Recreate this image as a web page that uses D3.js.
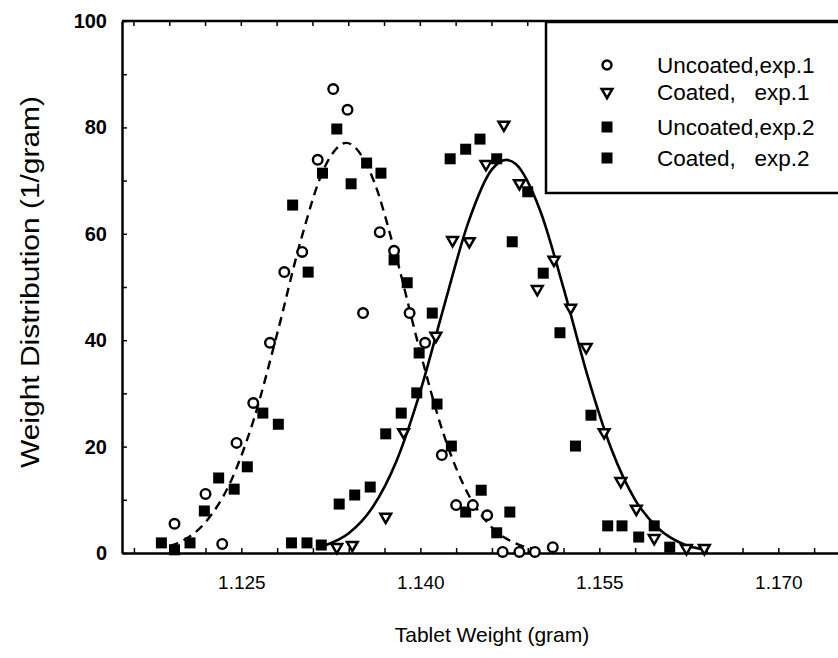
<!DOCTYPE html>
<meta charset="utf-8">
<title>Tablet Weight Distribution</title>
<style>
  body { margin: 0; background: white; }
  svg { font-family: "Liberation Sans", Arial, sans-serif; }
  .tick text { fill: black; }
</style>
<body>
<div id="chart"></div>
<script src="https://d3js.org/d3.v7.min.js"></script>
<script>

// Uncoated, exp.1 (open circles)
var uncoated1X = [1.1194, 1.1220, 1.1234, 1.1246, 1.1260, 1.1274, 1.1286, 1.1301, 1.1314, 1.1327, 1.1339,
                  1.1352, 1.1366, 1.1378, 1.1391, 1.1404, 1.1418, 1.1430, 1.1444, 1.1456, 1.1469, 1.1483, 1.1496, 1.1511];
var uncoated1Y = [5.5, 11.1, 1.7, 20.7, 28.2, 39.5, 52.8, 56.6, 73.9, 87.2, 83.3,
                  45.1, 60.3, 56.8, 45.1, 39.5, 18.4, 9.0, 9.0, 7.1, 0.2, 0.2, 0.2, 1.1];

// Coated, exp.1 (open down triangles)
var coated1X = [1.1330, 1.1343, 1.1371, 1.1386, 1.1413, 1.1427, 1.1441, 1.1455, 1.1470, 1.1483,
                1.1498, 1.1512, 1.1526, 1.1539, 1.1554, 1.1568, 1.1581, 1.1596, 1.1623, 1.1638];
var coated1Y = [1.1, 1.5, 6.8, 22.7, 40.8, 58.8, 58.6, 73.1, 80.5, 69.5,
                49.6, 55.1, 46.1, 38.7, 22.7, 13.5, 8.3, 2.8, 0.9, 0.9];

// Uncoated, exp.2 (filled squares)
var uncoated2X = [1.1183, 1.1194, 1.1207, 1.1219, 1.1231, 1.1244, 1.1255, 1.1268, 1.1281, 1.1293, 1.1306,
                  1.1318, 1.1330, 1.1342, 1.1355, 1.1367, 1.1378, 1.1389, 1.1399, 1.1414, 1.1426,
                  1.1438, 1.1451, 1.1464, 1.1475];
var uncoated2Y = [1.9, 0.6, 1.9, 7.9, 14.1, 12.0, 16.2, 26.3, 24.2, 65.4, 52.8,
                  71.4, 79.7, 69.4, 73.3, 71.4, 55.1, 50.8, 37.6, 28.0, 20.1,
                  7.7, 11.8, 3.8, 7.7];

// Coated, exp.2 (filled squares)
var coated2X = [1.1292, 1.1305, 1.1317, 1.1332, 1.1345, 1.1358, 1.1371, 1.1384, 1.1397, 1.1410,
                1.1425, 1.1438, 1.1450, 1.1464, 1.1477, 1.1490, 1.1503, 1.1517, 1.1530, 1.1543,
                1.1557, 1.1569, 1.1583, 1.1596, 1.1609];
var coated2Y = [1.9, 1.9, 1.5, 9.2, 10.9, 12.4, 22.4, 26.3, 30.1, 45.1,
                74.1, 75.9, 77.8, 74.1, 58.5, 67.9, 52.6, 41.4, 20.1, 25.9,
                5.1, 5.1, 3.0, 5.1, 1.1];

// fitted curves
var uncoatedFitX = [1.119, 1.120, 1.122, 1.124, 1.126, 1.128, 1.130, 1.132, 1.1338, 1.136, 1.138,
                    1.140, 1.142, 1.144, 1.146, 1.148, 1.150];
var uncoatedFitY = [1.3, 2.2, 5.8, 12.9, 24.8, 41.2, 58.9, 72.6, 77.1, 70.5, 55.5,
                    37.7, 22.0, 11.1, 4.8, 1.8, 0.6];
var coatedFitX = [1.132, 1.134, 1.136, 1.138, 1.140, 1.142, 1.144, 1.146, 1.1472, 1.148, 1.150,
                  1.152, 1.154, 1.156, 1.158, 1.160, 1.162, 1.164];
var coatedFitY = [1.4, 3.7, 8.6, 17.3, 30.4, 46.5, 62.0, 72.1, 73.9, 73.1, 64.6,
                  49.8, 33.4, 19.6, 10.0, 4.5, 1.7, 0.6];

var xTickLabels = ["1.125", "1.140", "1.155", "1.170"];
var xMinorTicks = [1.116, 1.119, 1.122, 1.125, 1.128, 1.131, 1.134, 1.137, 1.140, 1.143, 1.146,
                   1.149, 1.152, 1.155, 1.158, 1.161, 1.164, 1.167, 1.170, 1.173];
var yTickLabels = [0, 20, 40, 60, 80, 100];
var yMinorTicks = [10, 20, 30, 40, 50, 60, 70, 80, 90];

var legendLabels = ["Uncoated,exp.1", "Coated,   exp.1", "Uncoated,exp.2", "Coated,   exp.2"];
var legendMarks = ["circle", "triangle", "square", "square"];

var W = 838, H = 658;
var svg = d3.select("#chart").append("svg")
    .attr("width", W)
    .attr("height", H);

var x = d3.scaleLinear().domain([1.115, 1.175]).range([122, 838]);
var y = d3.scaleLinear().domain([0, 100]).range([553, 21]);

function pairs(xs, ys) { return xs.map(function(v, i) { return [v, ys[i]]; }); }

// frame: top line
svg.append("line")
    .attr("x1", x(1.115)).attr("x2", W)
    .attr("y1", y(100)).attr("y2", y(100))
    .attr("stroke", "black").attr("stroke-width", 2.5);

// inner ticks on top edge
svg.append("g")
  .selectAll("line").data(xMinorTicks).enter().append("line")
    .attr("x1", function(d) { return x(d); }).attr("x2", function(d) { return x(d); })
    .attr("y1", y(100)).attr("y2", y(100) + 5)
    .attr("stroke", "black").attr("stroke-width", 1.5);

// x axis
var xAxis = svg.append("g")
    .attr("transform", "translate(0," + y(0) + ")")
    .call(d3.axisBottom(x).tickValues(xMinorTicks).tickSize(-5).tickSizeOuter(0)
      .tickFormat(function(d) {
        var s = d3.format(".3f")(d);
        return xTickLabels.indexOf(s) >= 0 ? s : "";
      }));
xAxis.select(".domain").attr("stroke-width", 2.5);
xAxis.selectAll(".tick line").attr("stroke-width", 1.5);
xAxis.selectAll(".tick text")
    .attr("y", 23)
    .style("font-size", "19px");

// y axis
var yAxis = svg.append("g")
    .attr("transform", "translate(" + x(1.115) + ",0)")
    .call(d3.axisLeft(y).tickValues(yMinorTicks.concat([0, 100])).tickSize(-5).tickSizeOuter(0)
      .tickFormat(function(d) { return yTickLabels.indexOf(d) >= 0 ? d : ""; }));
yAxis.select(".domain").attr("stroke-width", 2.5);
yAxis.selectAll(".tick line").attr("stroke-width", 1.5);
yAxis.selectAll(".tick text")
    .attr("x", -15)
    .style("font-size", "20px")
    .style("font-weight", "bold");

// axis titles
svg.append("text")
    .attr("x", 492).attr("y", 642)
    .attr("text-anchor", "middle")
    .style("font-size", "21px")
    .text("Tablet Weight (gram)");

svg.append("text")
    .attr("transform", "translate(39,282) rotate(-90)")
    .attr("text-anchor", "middle")
    .attr("textLength", 372)
    .attr("lengthAdjust", "spacingAndGlyphs")
    .style("font-size", "26px")
    .text("Weight Distribution (1/gram)");

// fitted curves
var line = d3.line()
    .x(function(d) { return x(d[0]); })
    .y(function(d) { return y(d[1]); })
    .curve(d3.curveMonotoneX);

svg.append("path")
    .datum(pairs(uncoatedFitX, uncoatedFitY))
    .attr("d", line)
    .attr("fill", "none").attr("stroke", "black")
    .attr("stroke-width", 2.4).attr("stroke-dasharray", "9,6");

svg.append("path")
    .datum(pairs(coatedFitX, coatedFitY))
    .attr("d", line)
    .attr("fill", "none").attr("stroke", "black")
    .attr("stroke-width", 2.6);

// markers
var square = d3.symbol().type(d3.symbolSquare).size(121);
var tri = d3.symbol().type(d3.symbolTriangle).size(50);

svg.append("g").selectAll("path")
    .data(pairs(uncoated2X, uncoated2Y).concat(pairs(coated2X, coated2Y)))
    .enter().append("path")
    .attr("d", square)
    .attr("transform", function(d) { return "translate(" + x(d[0]) + "," + y(d[1]) + ")"; })
    .attr("fill", "black");

svg.append("g").selectAll("circle")
    .data(pairs(uncoated1X, uncoated1Y))
    .enter().append("circle")
    .attr("cx", function(d) { return x(d[0]); })
    .attr("cy", function(d) { return y(d[1]); })
    .attr("r", 4.8)
    .attr("fill", "white").attr("stroke", "black").attr("stroke-width", 2.4);

svg.append("g").selectAll("path")
    .data(pairs(coated1X, coated1Y))
    .enter().append("path")
    .attr("d", tri)
    .attr("transform", function(d) { return "translate(" + x(d[0]) + "," + y(d[1]) + ") rotate(180)"; })
    .attr("fill", "white").attr("stroke", "black").attr("stroke-width", 2.5);

// legend
var legend = svg.append("g");
legend.append("rect")
    .attr("x", 546).attr("y", 22)
    .attr("width", 300).attr("height", 171)
    .attr("fill", "white").attr("stroke", "black").attr("stroke-width", 2.5);

var legendY = [65, 92, 127, 158];
legendLabels.forEach(function(label, i) {
  var g = legend.append("g").attr("transform", "translate(607," + legendY[i] + ")");
  if (legendMarks[i] === "circle") {
    g.append("circle").attr("r", 4.5)
      .attr("fill", "white").attr("stroke", "black").attr("stroke-width", 2.4);
  } else if (legendMarks[i] === "triangle") {
    g.append("path").attr("d", tri).attr("transform", "rotate(180)")
      .attr("fill", "white").attr("stroke", "black").attr("stroke-width", 2.5);
  } else {
    g.append("path").attr("d", square).attr("fill", "black");
  }
  legend.append("text")
    .attr("x", 657).attr("y", legendY[i] + 8)
    .style("font-size", "22.5px")
    .style("white-space", "pre")
    .attr("xml:space", "preserve")
    .text(label);
});

</script>
</body>
